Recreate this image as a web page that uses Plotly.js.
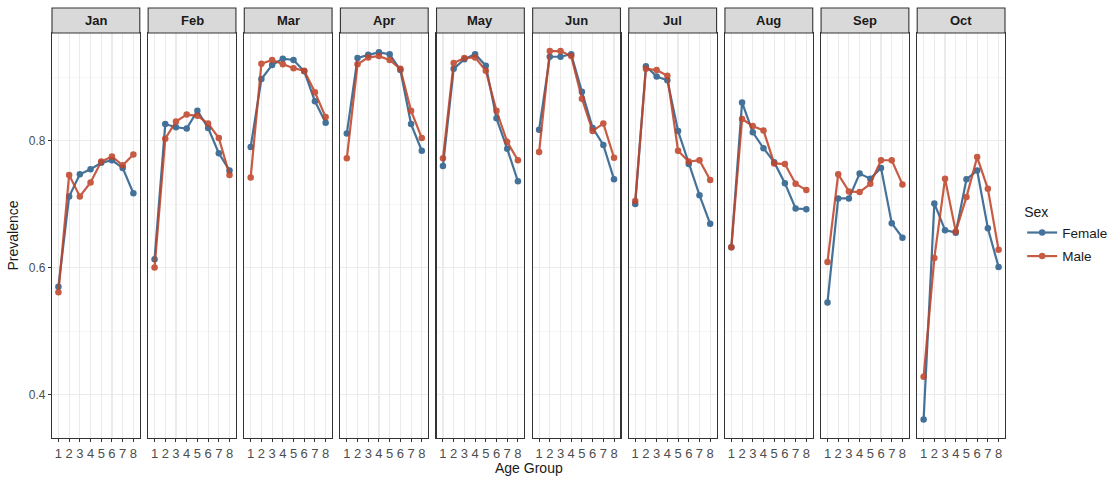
<!DOCTYPE html>
<html>
<head>
<meta charset="utf-8">
<script src="https://cdn.plot.ly/plotly-3.0.1.min.js"></script>
<style>
  html, body { margin: 0; padding: 0; background: #ffffff; }
  #chart { width: 1112px; height: 480px; }
</style>
</head>
<body>
<div id="chart"></div>
<script>
// Prevalence by age group, faceted by month and split by sex
const months = ["Jan", "Feb", "Mar", "Apr", "May", "Jun", "Jul", "Aug", "Sep", "Oct"];
const ageGroups = [1, 2, 3, 4, 5, 6, 7, 8];
const ageLabels = ["1", "2", "3", "4", "5", "6", "7", "8"];
const yTickVals = [0.4, 0.6, 0.8];
const yTickLabels = ["0.4", "0.6", "0.8"];

const female = [
  [0.570, 0.712, 0.747, 0.755, 0.765, 0.769, 0.757, 0.717], // Jan
  [0.613, 0.826, 0.821, 0.819, 0.847, 0.820, 0.780, 0.753], // Feb
  [0.790, 0.897, 0.919, 0.929, 0.927, 0.909, 0.862, 0.828], // Mar
  [0.811, 0.930, 0.935, 0.939, 0.936, 0.911, 0.826, 0.784], // Apr
  [0.760, 0.913, 0.928, 0.936, 0.918, 0.835, 0.787, 0.736], // May
  [0.817, 0.932, 0.932, 0.936, 0.877, 0.820, 0.793, 0.739], // Jun
  [0.700, 0.917, 0.901, 0.895, 0.815, 0.763, 0.714, 0.669], // Jul
  [0.632, 0.860, 0.813, 0.788, 0.766, 0.733, 0.693, 0.692], // Aug
  [0.545, 0.709, 0.709, 0.748, 0.740, 0.757, 0.670, 0.647], // Sep
  [0.361, 0.701, 0.659, 0.655, 0.739, 0.753, 0.662, 0.601]  // Oct
];
const male = [
  [0.561, 0.746, 0.712, 0.734, 0.767, 0.775, 0.761, 0.778], // Jan
  [0.600, 0.803, 0.830, 0.841, 0.839, 0.827, 0.804, 0.746], // Feb
  [0.742, 0.921, 0.927, 0.920, 0.914, 0.910, 0.876, 0.837], // Mar
  [0.772, 0.920, 0.931, 0.933, 0.927, 0.913, 0.847, 0.804], // Apr
  [0.772, 0.922, 0.930, 0.931, 0.910, 0.847, 0.798, 0.769], // May
  [0.782, 0.941, 0.941, 0.933, 0.866, 0.815, 0.827, 0.773], // Jun
  [0.705, 0.913, 0.911, 0.902, 0.784, 0.767, 0.769, 0.738], // Jul
  [0.632, 0.834, 0.823, 0.816, 0.764, 0.763, 0.732, 0.722], // Aug
  [0.609, 0.747, 0.720, 0.719, 0.732, 0.769, 0.769, 0.731], // Sep
  [0.428, 0.615, 0.740, 0.657, 0.711, 0.774, 0.724, 0.628]  // Oct
];

const FEMALE_COLOR = "#2b5f8c";
const MALE_COLOR = "#c0452a";
const FONT = "Liberation Sans, Arial, sans-serif";

// Panel geometry in pixels
const W = 1112, H = 480;
const M = { l: 52, r: 107, t: 33, b: 42, autoexpand: false };
const plotW = W - M.l - M.r;
const plotH = H - M.t - M.b;
const panelW = 87.8;
const gap = (plotW - months.length * panelW) / (months.length - 1);

const traces = [];
const layout = {
  width: W, height: H,
  margin: M,
  paper_bgcolor: "#ffffff",
  plot_bgcolor: "#ffffff",
  font: { family: FONT, size: 12, color: "#4d4d4d" },
  showlegend: true,
  legend: {
    x: 1.018, xanchor: "left", y: 0.59, yanchor: "top",
    title: { text: "Sex", font: { size: 14, color: "#1a1a1a" } },
    font: { size: 13.5, color: "#1a1a1a" },
    itemwidth: 30,
    tracegroupgap: 3,
    bgcolor: "rgba(0,0,0,0)"
  },
  shapes: [],
  annotations: []
};

months.forEach((m, i) => {
  const sfx = i === 0 ? "" : String(i + 1);
  const x0 = (i * (panelW + gap)) / plotW;
  const x1 = (i * (panelW + gap) + panelW) / plotW;

  layout["xaxis" + sfx] = {
    domain: [x0, x1],
    anchor: "y" + sfx,
    range: [0.4, 8.6],
    tickmode: "array",
    tickvals: ageGroups,
    ticktext: ageLabels,
    ticks: "outside", ticklen: 3, tickwidth: 1, tickcolor: "#333333",
    showgrid: true, gridcolor: "#ebebeb", gridwidth: 1.1,
    zeroline: false,
    showline: true, mirror: true, linecolor: "#333333", linewidth: 1.1,
    tickfont: { size: 13, color: "#4d4d4d" },
    fixedrange: true
  };
  layout["yaxis" + sfx] = {
    domain: [0, 1],
    anchor: "x" + sfx,
    range: [0.3317, 0.9694],
    tickmode: "array",
    tickvals: yTickVals,
    ticktext: yTickLabels,
    showticklabels: i === 0,
    ticks: i === 0 ? "outside" : "",
    ticklen: 3, tickwidth: 1, tickcolor: "#333333",
    showgrid: true, gridcolor: "#ebebeb", gridwidth: 1.1,
    minor: { tickvals: [0.5, 0.7, 0.9], showgrid: true, gridcolor: "#f2f2f2", gridwidth: 0.6, ticks: "" },
    zeroline: false,
    showline: true, mirror: true, linecolor: "#333333", linewidth: 1.1,
    tickfont: { size: 12, color: "#4d4d4d" },
    fixedrange: true
  };
  if (i === 0) {
    layout.yaxis.title = { text: "Prevalence", font: { size: 14, color: "#1a1a1a" }, standoff: 6 };
  }

  // Facet strip
  layout.shapes.push({
    type: "rect", xref: "paper", yref: "paper",
    x0: x0, x1: x1, y0: 1.0, y1: 1 + 25 / plotH,
    fillcolor: "#d9d9d9",
    line: { color: "#333333", width: 1.1 },
    layer: "above"
  });
  layout.annotations.push({
    xref: "paper", yref: "paper",
    x: (x0 + x1) / 2, y: 1 + 12.5 / plotH,
    xanchor: "center", yanchor: "middle",
    text: "<b>" + m + "</b>",
    showarrow: false,
    font: { size: 13, color: "#1a1a1a", family: FONT }
  });

  traces.push({
    type: "scatter", mode: "lines+markers",
    x: ageGroups, y: female[i],
    xaxis: "x" + sfx, yaxis: "y" + sfx,
    name: "Female", legendgroup: "Female", showlegend: i === 0,
    line: { color: FEMALE_COLOR, width: 2.2 },
    marker: { color: FEMALE_COLOR, size: 6.5 },
    opacity: 0.88,
    cliponaxis: false
  });
  traces.push({
    type: "scatter", mode: "lines+markers",
    x: ageGroups, y: male[i],
    xaxis: "x" + sfx, yaxis: "y" + sfx,
    name: "Male", legendgroup: "Male", showlegend: i === 0,
    line: { color: MALE_COLOR, width: 2.2 },
    marker: { color: MALE_COLOR, size: 6.5 },
    opacity: 0.88,
    cliponaxis: false
  });
});

// Shared x-axis title
layout.annotations.push({
  xref: "paper", yref: "paper",
  x: 0.5, y: -30 / plotH,
  xanchor: "center", yanchor: "middle",
  text: "Age Group",
  showarrow: false,
  font: { size: 14, color: "#1a1a1a", family: FONT }
});

Plotly.newPlot("chart", traces, layout, { displayModeBar: false, staticPlot: true });
</script>
</body>
</html>
